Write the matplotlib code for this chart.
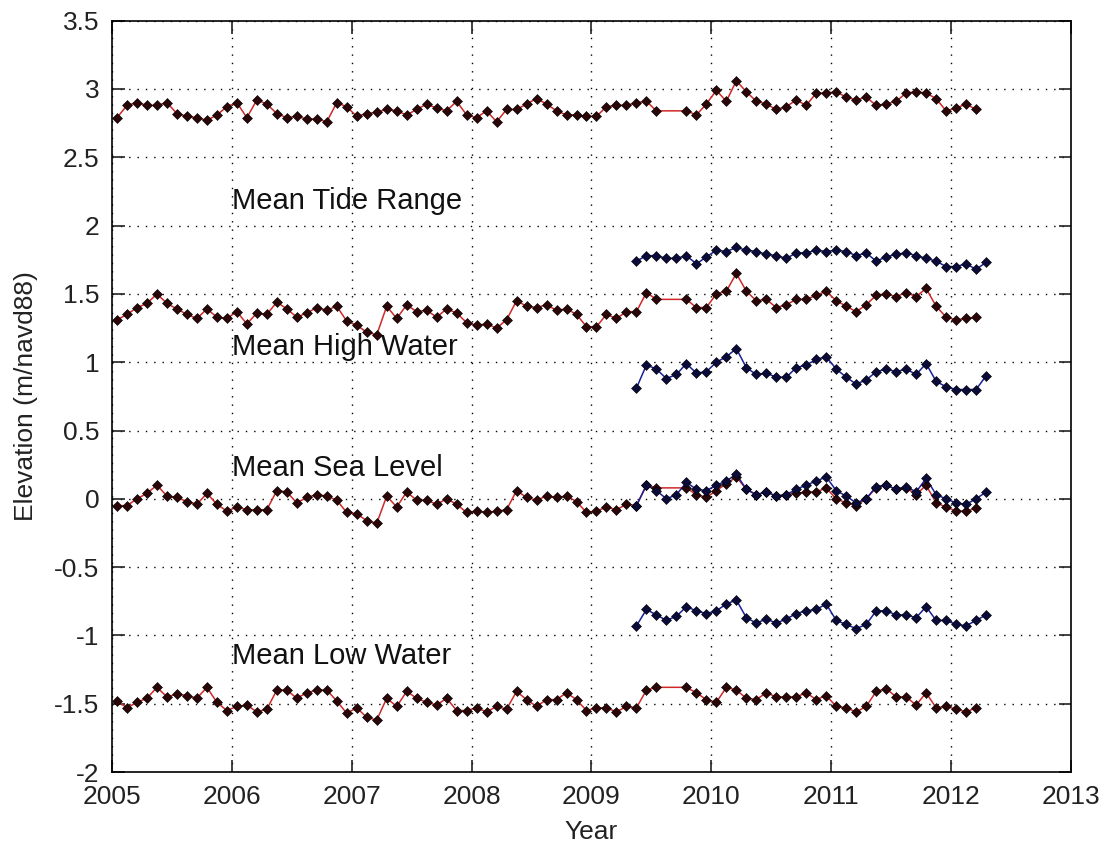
import numpy as np
import matplotlib
matplotlib.use("Agg")
import matplotlib.pyplot as plt
from matplotlib.ticker import FormatStrFormatter

plt.rcParams['font.family'] = ['Liberation Sans', 'DejaVu Sans']
plt.rcParams['axes.unicode_minus'] = False

# monthly means, month 0 = Jan 2005; Aug/Sep 2009 missing at the old gauge
gap_months = [55, 56]
red_months = [m for m in range(87) if m not in gap_months]
blue_months = list(range(52, 88))

tide_range_red = [2.79, 2.88, 2.90, 2.88, 2.88, 2.90, 2.82, 2.80, 2.79, 2.77,
                  2.81, 2.87, 2.90, 2.79, 2.92, 2.89, 2.82, 2.79, 2.80, 2.78,
                  2.78, 2.76, 2.90, 2.87, 2.80, 2.82, 2.83, 2.85, 2.84, 2.81,
                  2.85, 2.89, 2.86, 2.84, 2.91, 2.81, 2.79, 2.84, 2.76, 2.85,
                  2.85, 2.89, 2.93, 2.89, 2.84, 2.81, 2.81, 2.80, 2.80, 2.87,
                  2.88, 2.88, 2.90, 2.91, 2.84,
                  2.84, 2.81, 2.89, 2.99, 2.91, 3.06, 2.98, 2.91, 2.89, 2.85,
                  2.87, 2.92, 2.88, 2.97, 2.97, 2.98, 2.94, 2.92, 2.94, 2.88,
                  2.89, 2.91, 2.97, 2.98, 2.97, 2.93, 2.84, 2.86, 2.89, 2.85]
high_water_red = [1.31, 1.35, 1.40, 1.43, 1.50, 1.43, 1.39, 1.35, 1.32, 1.39,
                  1.33, 1.32, 1.37, 1.28, 1.36, 1.35, 1.44, 1.39, 1.33, 1.36,
                  1.40, 1.38, 1.41, 1.30, 1.27, 1.22, 1.20, 1.41, 1.32, 1.42,
                  1.37, 1.38, 1.33, 1.39, 1.36, 1.29, 1.27, 1.28, 1.25, 1.31,
                  1.45, 1.41, 1.40, 1.42, 1.38, 1.39, 1.35, 1.26, 1.26, 1.35,
                  1.32, 1.37, 1.37, 1.51, 1.46,
                  1.46, 1.40, 1.40, 1.50, 1.52, 1.65, 1.52, 1.45, 1.46, 1.40,
                  1.42, 1.46, 1.46, 1.49, 1.52, 1.45, 1.41, 1.37, 1.42, 1.49,
                  1.50, 1.48, 1.51, 1.48, 1.54, 1.41, 1.33, 1.31, 1.32, 1.33]
sea_level_red = [-0.05, -0.05, 0.00, 0.04, 0.10, 0.02, 0.01, -0.02, -0.04, 0.04,
                 -0.04, -0.09, -0.06, -0.08, -0.08, -0.08, 0.06, 0.05, -0.03, 0.01,
                 0.03, 0.02, -0.01, -0.10, -0.11, -0.16, -0.18, 0.02, -0.06, 0.05,
                 -0.01, -0.01, -0.04, 0.00, -0.04, -0.10, -0.09, -0.10, -0.09, -0.08,
                 0.06, 0.01, -0.01, 0.02, 0.01, 0.02, -0.02, -0.10, -0.09, -0.06,
                 -0.08, -0.04, -0.05, 0.10, 0.08,
                 0.08, 0.03, 0.01, 0.06, 0.11, 0.16, 0.07, 0.03, 0.05, 0.02,
                 0.03, 0.04, 0.05, 0.05, 0.08, 0.00, -0.03, -0.05, 0.00, 0.08,
                 0.10, 0.07, 0.08, 0.03, 0.10, -0.03, -0.06, -0.09, -0.09, -0.07]
low_water_red = [-1.48, -1.53, -1.49, -1.46, -1.38, -1.45, -1.43, -1.44, -1.46, -1.38,
                 -1.49, -1.55, -1.52, -1.51, -1.56, -1.54, -1.40, -1.40, -1.46, -1.42,
                 -1.40, -1.40, -1.48, -1.57, -1.53, -1.60, -1.62, -1.46, -1.52, -1.41,
                 -1.46, -1.49, -1.51, -1.46, -1.55, -1.55, -1.53, -1.56, -1.52, -1.54,
                 -1.41, -1.47, -1.52, -1.47, -1.47, -1.42, -1.47, -1.55, -1.53, -1.53,
                 -1.56, -1.52, -1.53, -1.40, -1.38,
                 -1.38, -1.42, -1.47, -1.49, -1.38, -1.40, -1.46, -1.47, -1.42, -1.45,
                 -1.45, -1.45, -1.42, -1.47, -1.44, -1.52, -1.53, -1.56, -1.52, -1.41,
                 -1.39, -1.45, -1.45, -1.51, -1.42, -1.53, -1.52, -1.54, -1.56, -1.53]

tide_range_blue = [1.74, 1.78, 1.78, 1.76, 1.76, 1.78, 1.72, 1.77, 1.82, 1.81,
                   1.84, 1.82, 1.81, 1.79, 1.78, 1.76, 1.80, 1.80, 1.82, 1.81,
                   1.82, 1.81, 1.78, 1.80, 1.74, 1.77, 1.79, 1.80, 1.78, 1.76,
                   1.74, 1.70, 1.70, 1.72, 1.68, 1.73]
high_water_blue = [0.81, 0.98, 0.95, 0.88, 0.91, 0.99, 0.92, 0.93, 1.00, 1.04,
                   1.10, 0.96, 0.91, 0.92, 0.89, 0.89, 0.96, 0.98, 1.02, 1.04,
                   0.95, 0.89, 0.84, 0.87, 0.93, 0.95, 0.93, 0.95, 0.91, 0.99,
                   0.86, 0.82, 0.80, 0.80, 0.80, 0.90]
sea_level_blue = [-0.05, 0.10, 0.06, 0.00, 0.03, 0.12, 0.07, 0.06, 0.10, 0.13,
                  0.18, 0.07, 0.03, 0.05, 0.02, 0.03, 0.07, 0.10, 0.13, 0.16,
                  0.06, 0.02, -0.03, 0.00, 0.09, 0.10, 0.07, 0.09, 0.05, 0.15,
                  0.03, 0.00, -0.03, -0.04, 0.00, 0.05]
low_water_blue = [-0.93, -0.81, -0.85, -0.89, -0.86, -0.79, -0.82, -0.84, -0.82, -0.77,
                  -0.74, -0.87, -0.91, -0.88, -0.91, -0.88, -0.84, -0.82, -0.81, -0.77,
                  -0.89, -0.92, -0.95, -0.92, -0.82, -0.82, -0.85, -0.85, -0.87, -0.79,
                  -0.89, -0.89, -0.92, -0.93, -0.89, -0.85]

labels = ["Mean Tide Range", "Mean High Water", "Mean Sea Level", "Mean Low Water"]
label_y = [2.12, 1.05, 0.17, -1.21]


def to_year(months):
    return 2005 + (np.array(months) + 0.5) / 12.0


def main():
    fig = plt.figure(figsize=(11.09, 8.48), dpi=100)
    ax = fig.add_axes([0.101, 0.0896, 0.8647, 0.886])

    t_red = to_year(red_months)
    t_blue = to_year(blue_months)
    red_sets = [tide_range_red, high_water_red, sea_level_red, low_water_red]
    blue_sets = [tide_range_blue, high_water_blue, sea_level_blue, low_water_blue]

    for y in red_sets:
        ax.plot(t_red, y, '-', color='#d02828', lw=1.1, zorder=3)
        ax.plot(t_red, y, 'D', ms=4.6, mfc='#2a0608', mec='black', mew=0.4, zorder=4)
    for y in blue_sets:
        ax.plot(t_blue, y, '-', color='#18209a', lw=1.1, zorder=3)
        ax.plot(t_blue, y, 'D', ms=4.6, mfc='#0a0b38', mec='black', mew=0.4, zorder=4)

    for txt, y in zip(labels, label_y):
        ax.text(2006.0, y, txt, fontsize=21, va='baseline', ha='left', color='#111111')

    ax.set_xlim(2005, 2013)
    ax.set_ylim(-2, 3.5)
    ax.set_xticks(np.arange(2005, 2014, 1))
    ax.set_yticks(np.arange(-2, 3.51, 0.5))
    ax.yaxis.set_major_formatter(FormatStrFormatter('%g'))
    ax.xaxis.set_major_formatter(FormatStrFormatter('%d'))
    ax.grid(True, linestyle=(0, (1, 5)), color='black', lw=1.0)
    ax.tick_params(direction='in', length=9, width=1.2, top=True, right=True,
                   labelsize=19, pad=9, colors='#222222')
    for s in ax.spines.values():
        s.set_linewidth(1.2)
    ax.set_xlabel('Year', fontsize=19, color='#222222', labelpad=8)
    ax.set_ylabel('Elevation (m/navd88)', fontsize=19, color='#222222', labelpad=12)

    fig.savefig('out.png', dpi=100)


if __name__ == '__main__':
    main()
